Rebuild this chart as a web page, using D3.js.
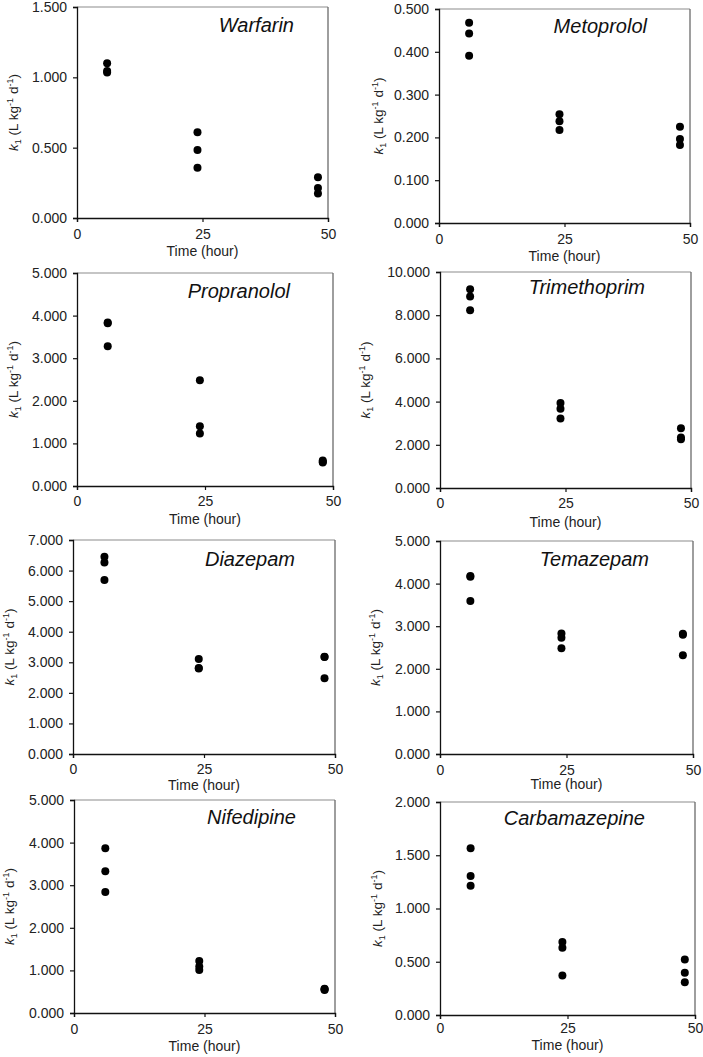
<!DOCTYPE html>
<html><head><meta charset="utf-8">
<script src="https://cdn.jsdelivr.net/npm/d3@7"></script>
<style>
html,body{margin:0;padding:0;background:#fff;}
svg{display:block;font-family:Arial,"Liberation Sans",sans-serif;}
</style></head>
<body>
<svg id="chart" width="703" height="1057"></svg>
<script>
// ---------- data ----------
const drugs = ["Warfarin","Metoprolol","Propranolol","Trimethoprim","Diazepam","Temazepam","Nifedipine","Carbamazepine"];
const timePoints = [6, 24, 48];
const xTicks = [0, 25, 50];
// k1 replicates at each time point (6 h, 24 h, 48 h)
const warfarin      = [[1.100, 1.045, 1.035], [0.610, 0.484, 0.357], [0.290, 0.213, 0.174]];
const metoprolol    = [[0.468, 0.443, 0.391], [0.254, 0.238, 0.217], [0.225, 0.196, 0.182]];
const propranolol   = [[3.840, 3.820, 3.280], [2.480, 1.400, 1.230], [0.600, 0.570, 0.550]];
const trimethoprim  = [[9.200, 8.860, 8.230], [3.930, 3.670, 3.220], [2.770, 2.340, 2.260]];
const diazepam      = [[6.450, 6.260, 5.690], [3.110, 2.810, 2.800], [3.180, 3.170, 2.480]];
const temazepam     = [[4.180, 4.160, 3.590], [2.830, 2.730, 2.480], [2.820, 2.800, 2.320]];
const nifedipine    = [[3.870, 3.330, 2.840], [1.220, 1.090, 1.010], [0.570, 0.560, 0.540]];
const carbamazepine = [[1.565, 1.305, 1.214], [0.685, 0.632, 0.372], [0.520, 0.397, 0.307]];
const seriesValues = [warfarin, metoprolol, propranolol, trimethoprim, diazepam, temazepam, nifedipine, carbamazepine];
const yMax  = [1.5, 0.5, 5, 10, 7, 5, 5, 2];
const yStep = [0.5, 0.1, 1, 2, 1, 1, 1, 0.5];

// ---------- layout (positions only) ----------
const layout = [
  {l:77,  r:328, t:7,   b:218,  tickB:239,  xlabB:256,  ylabX:13,  titleR:34, titleB:25},
  {l:439, r:690, t:9,   b:223,  tickB:244,  xlabB:261,  ylabX:378, titleR:43, titleB:24},
  {l:77,  r:333, t:273, b:486,  tickB:506,  xlabB:524,  ylabX:13,  titleR:43, titleB:25},
  {l:440, r:691, t:272, b:488,  tickB:508,  xlabB:527,  ylabX:365, titleR:46, titleB:22},
  {l:73,  r:335, t:540, b:754,  tickB:774,  xlabB:790,  ylabX:9,   titleR:40, titleB:26},
  {l:440, r:693, t:541, b:754,  tickB:775,  xlabB:789,  ylabX:375, titleR:44, titleB:25},
  {l:74,  r:335, t:800, b:1013, tickB:1034, xlabB:1051, ylabX:9,   titleR:39, titleB:24},
  {l:440, r:695, t:802, b:1015, tickB:1033, xlabB:1050, ylabX:377, titleR:50, titleB:23}
];

const svg = d3.select("#chart");
const fmt = d3.format(".3f");

drugs.forEach((name, i) => {
  const L = layout[i];
  const x = d3.scaleLinear().domain([0, 50]).range([L.l, L.r]);
  const y = d3.scaleLinear().domain([0, yMax[i]]).range([L.b, L.t]);
  const g = svg.append("g");

  // frame (top & right)
  g.append("line").attr("x1", L.l).attr("x2", L.r).attr("y1", L.t).attr("y2", L.t)
    .attr("stroke", "#8c8c8c").attr("stroke-width", 1.2);
  g.append("line").attr("x1", L.r).attr("x2", L.r).attr("y1", L.t).attr("y2", L.b)
    .attr("stroke", "#6a6a6a").attr("stroke-width", 1.3);

  // y axis
  const yTicks = d3.range(0, yMax[i] + yStep[i] / 2, yStep[i]);
  const ya = g.append("g").attr("transform", `translate(${L.l},0)`)
    .call(d3.axisLeft(y).tickValues(yTicks).tickFormat(fmt).tickSize(4).tickPadding(6));
  ya.select(".domain").attr("stroke", "#111").attr("stroke-width", 1.3);
  ya.selectAll(".tick line").attr("stroke", "#111").attr("stroke-width", 1.2);
  ya.selectAll("text").attr("font-size", "14px").attr("fill", "#222")
    .attr("font-family", "Arial, 'Liberation Sans', sans-serif");

  // x axis
  const xa = g.append("g").attr("transform", `translate(0,${L.b})`)
    .call(d3.axisBottom(x).tickValues(xTicks).tickFormat(d3.format("d")).tickSize(4).tickPadding(6));
  xa.select(".domain").attr("stroke", "#111").attr("stroke-width", 1.3);
  xa.selectAll(".tick line").attr("stroke", "#111").attr("stroke-width", 1.2);
  xa.selectAll("text").attr("font-size", "14px").attr("fill", "#222")
    .attr("font-family", "Arial, 'Liberation Sans', sans-serif")
    .attr("dy", null).attr("y", L.tickB - L.b);

  // x label
  g.append("text").attr("x", (L.l + L.r) / 2).attr("y", L.xlabB)
    .attr("text-anchor", "middle").attr("font-size", "14px").attr("fill", "#222")
    .text("Time (hour)");

  // y label
  const yl = g.append("text")
    .attr("transform", `translate(${L.ylabX + 5},${(L.t + L.b) / 2}) rotate(-90)`)
    .attr("text-anchor", "middle").attr("font-size", "13.5px").attr("fill", "#222");
  yl.append("tspan").attr("font-style", "italic").text("k");
  yl.append("tspan").attr("font-size", "9px").attr("dy", 3).text("1");
  yl.append("tspan").attr("dy", -3).text(" (L kg");
  yl.append("tspan").attr("font-size", "9px").attr("dy", -5).text("-1");
  yl.append("tspan").attr("dy", 5).text(" d");
  yl.append("tspan").attr("font-size", "9px").attr("dy", -5).text("-1");
  yl.append("tspan").attr("dy", 5).text(")");

  // title
  g.append("text").attr("x", L.r - L.titleR).attr("y", L.t + L.titleB)
    .attr("text-anchor", "end").attr("font-size", "20px").attr("font-style", "italic")
    .attr("fill", "#111").text(name);

  // points
  const pts = [];
  seriesValues[i].forEach((vals, j) => vals.forEach(v => pts.push({t: timePoints[j], v})));
  g.selectAll("circle.pt").data(pts).enter().append("circle").attr("class", "pt")
    .attr("cx", d => x(d.t)).attr("cy", d => y(d.v)).attr("r", 4).attr("fill", "#000");
});
</script>
</body></html>
